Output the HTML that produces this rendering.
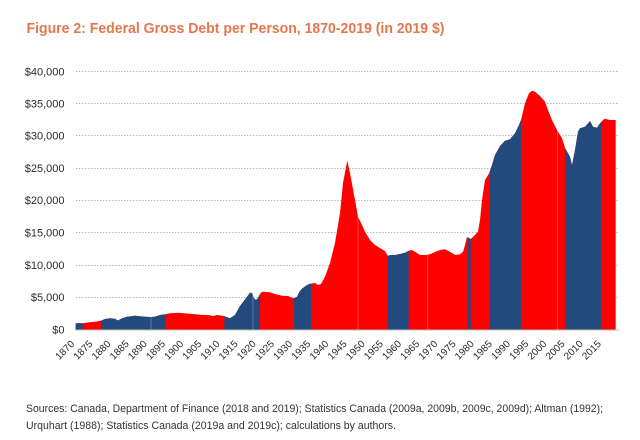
<!DOCTYPE html>
<html>
<head>
<meta charset="utf-8">
<style>
  html, body { margin:0; padding:0; background:#ffffff; }
  body { width:640px; height:440px; overflow:hidden; }
  svg { display:block; }
  .yl { font-family:"Liberation Sans", sans-serif; font-size:11px; fill:#2b2b2b; }
  .xl { font-family:"Liberation Sans", sans-serif; font-size:10px; fill:#2b2b2b; }
  .src { font-family:"Liberation Sans", sans-serif; font-size:11px; fill:#333333; }
  .ttl { font-family:"Liberation Sans", sans-serif; font-size:14.5px; font-weight:bold; fill:#e5774f; }
</style>
</head>
<body>
<svg width="640" height="440" viewBox="0 0 640 440" xmlns="http://www.w3.org/2000/svg">
  <defs>
    <clipPath id="area">
      <path d="M75.7,329.5 L75.7,323.3 L82.7,323.2 L90,322.3 L95,321.8 L101,320.7 L105,319 L110,318.3 L115,318.7 L118,320.5 L122,318.3 L127,316.7 L135,315.7 L145,316.7 L150,317 L155,316.7 L160,315 L165.7,314.3 L170,313.3 L178,312.7 L190,313.7 L200,314.7 L210,315.3 L213,316 L217,315 L224,316 L230,318.3 L235,315 L240,306 L243,302 L247,296.7 L250,292.7 L252,293 L254,298.3 L256,300 L258,298 L260,294 L262,291.7 L270,292.3 L275,294 L282,295.7 L288,296 L292,297.7 L294,298.3 L297,296.7 L300,290.7 L303,288 L307,285 L311,283.5 L315,283 L318.3,285 L321,284 L325,276.7 L330,263 L335,243 L340,213 L343,183 L347.3,160.5 L350,173 L355,200 L358,216.7 L362,225 L365,231.7 L370,240 L375,245 L380,248 L385,251 L388,256 L390,255 L395,255 L400,254 L405,252.7 L408.7,250.7 L412,250 L415,251.7 L420,255 L425,255 L430,254.3 L435,252 L440,250 L445,249.3 L450,251.7 L455,255 L460,254.3 L463,251.7 L465,245 L467,237 L470.7,239 L475,235 L478,231.7 L480,220 L482,200 L485,180 L489.3,173 L492,165 L495,155 L500,146 L505,140.7 L510,139.3 L515,133.3 L519,125 L521,120 L525,103.3 L529,93.3 L532,90.7 L535,91.7 L540,96 L545,101.7 L548,110 L552,120 L557,130 L562,138.3 L565,148 L570,156.7 L572,165 L575,150 L578,131.7 L580,128.3 L585,126.7 L590,121 L593,126.7 L597,127.7 L600,123.3 L603,120 L605,118.7 L610,120 L615.7,120 L615.7,329.5 Z"/>
    </clipPath>
  </defs>

  <!-- Title -->
  <text class="ttl" x="26.5" y="33" textLength="418" lengthAdjust="spacingAndGlyphs">Figure 2: Federal Gross Debt per Person, 1870-2019 (in 2019 $)</text>

  <!-- Gridlines -->
  <g stroke="#b5b5b5" stroke-width="1" stroke-dasharray="1.5,1.5">
    <line x1="76" y1="71.5" x2="619" y2="71.5"/>
    <line x1="76" y1="103.5" x2="619" y2="103.5"/>
    <line x1="76" y1="135.5" x2="619" y2="135.5"/>
    <line x1="76" y1="168.5" x2="619" y2="168.5"/>
    <line x1="76" y1="200.5" x2="619" y2="200.5"/>
    <line x1="76" y1="232.5" x2="619" y2="232.5"/>
    <line x1="76" y1="265.5" x2="619" y2="265.5"/>
    <line x1="76" y1="297.5" x2="619" y2="297.5"/>
  </g>

  <!-- Y labels -->
  <g class="yl" text-anchor="end">
    <text x="64.5" y="75.5">$40,000</text>
    <text x="64.5" y="107.5">$35,000</text>
    <text x="64.5" y="139.5">$30,000</text>
    <text x="64.5" y="172">$25,000</text>
    <text x="64.5" y="204">$20,000</text>
    <text x="64.5" y="236.5">$15,000</text>
    <text x="64.5" y="269">$10,000</text>
    <text x="64.5" y="301">$5,000</text>
    <text x="64.5" y="333.5">$0</text>
  </g>

  <!-- Area -->
  <g clip-path="url(#area)">
    <rect x="70" y="60" width="560" height="280" fill="#ff0000"/>
    <g fill="#234a7d">
      <rect x="70" y="60" width="12.7" height="280"/>
      <rect x="101" y="60" width="64.7" height="280"/>
      <rect x="224.3" y="60" width="35.7" height="280"/>
      <rect x="294" y="60" width="17" height="280"/>
      <rect x="387.7" y="60" width="21" height="280"/>
      <rect x="467.7" y="60" width="3" height="280"/>
      <rect x="489.3" y="60" width="31.7" height="280"/>
      <rect x="565" y="60" width="36" height="280"/>
    </g>
    <g stroke="#ffffff" stroke-opacity="0.35" stroke-width="0.8">
      <line x1="151" y1="60" x2="151" y2="340"/>
      <line x1="253" y1="60" x2="253" y2="340"/>
      <line x1="358" y1="60" x2="358" y2="340"/>
      <line x1="427.7" y1="60" x2="427.7" y2="340"/>
      <line x1="557.5" y1="60" x2="557.5" y2="340"/>
    </g>
  </g>

  <!-- Axis line -->
  <line x1="75" y1="330" x2="619" y2="330" stroke="#bdbdbd" stroke-width="1"/>

  <!-- X labels -->
  <g class="xl" text-anchor="end">
    <text transform="translate(75,344.5) rotate(-45)">1870</text>
    <text transform="translate(93.2,344.5) rotate(-45)">1875</text>
    <text transform="translate(111.3,344.5) rotate(-45)">1880</text>
    <text transform="translate(129.5,344.5) rotate(-45)">1885</text>
    <text transform="translate(147.6,344.5) rotate(-45)">1890</text>
    <text transform="translate(165.8,344.5) rotate(-45)">1895</text>
    <text transform="translate(184,344.5) rotate(-45)">1900</text>
    <text transform="translate(202.1,344.5) rotate(-45)">1905</text>
    <text transform="translate(220.3,344.5) rotate(-45)">1910</text>
    <text transform="translate(238.4,344.5) rotate(-45)">1915</text>
    <text transform="translate(256.6,344.5) rotate(-45)">1920</text>
    <text transform="translate(274.8,344.5) rotate(-45)">1925</text>
    <text transform="translate(292.9,344.5) rotate(-45)">1930</text>
    <text transform="translate(311.1,344.5) rotate(-45)">1935</text>
    <text transform="translate(329.2,344.5) rotate(-45)">1940</text>
    <text transform="translate(347.4,344.5) rotate(-45)">1945</text>
    <text transform="translate(365.6,344.5) rotate(-45)">1950</text>
    <text transform="translate(383.7,344.5) rotate(-45)">1955</text>
    <text transform="translate(401.9,344.5) rotate(-45)">1960</text>
    <text transform="translate(420,344.5) rotate(-45)">1965</text>
    <text transform="translate(438.2,344.5) rotate(-45)">1970</text>
    <text transform="translate(456.4,344.5) rotate(-45)">1975</text>
    <text transform="translate(474.5,344.5) rotate(-45)">1980</text>
    <text transform="translate(492.7,344.5) rotate(-45)">1985</text>
    <text transform="translate(510.8,344.5) rotate(-45)">1990</text>
    <text transform="translate(529,344.5) rotate(-45)">1995</text>
    <text transform="translate(547.2,344.5) rotate(-45)">2000</text>
    <text transform="translate(565.3,344.5) rotate(-45)">2005</text>
    <text transform="translate(583.5,344.5) rotate(-45)">2010</text>
    <text transform="translate(601.7,344.5) rotate(-45)">2015</text>
  </g>

  <!-- Sources -->
  <text class="src" x="26" y="412" textLength="577" lengthAdjust="spacingAndGlyphs">Sources: Canada, Department of Finance (2018 and 2019); Statistics Canada (2009a, 2009b, 2009c, 2009d); Altman (1992);</text>
  <text class="src" x="26" y="429" textLength="370" lengthAdjust="spacingAndGlyphs">Urquhart (1988); Statistics Canada (2019a and 2019c); calculations by authors.</text>
</svg>
</body>
</html>
